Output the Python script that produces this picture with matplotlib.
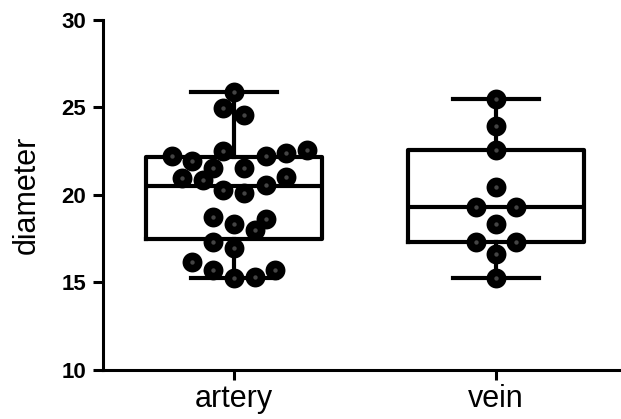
import matplotlib
matplotlib.use("Agg")
import matplotlib.pyplot as plt
import numpy as np

categories = ["artery", "vein"]

# individual values
artery_values = [25.85, 24.95, 24.57, 22.5, 22.2, 21.93, 22.19, 22.4, 22.57,
                 21.52, 21.52, 20.98, 20.84, 20.29, 20.13, 20.57, 21.01,
                 18.76, 18.33, 18.64, 18.0, 17.33, 16.95, 16.16, 15.69,
                 15.24, 15.3, 15.69]
artery_jitter = [0.0, -0.042, 0.038, -0.042, -0.237, -0.16, 0.122, 0.2, 0.28,
                 -0.08, 0.038, -0.198, -0.12, -0.042, 0.038, 0.122, 0.2,
                 -0.08, 0.0, 0.122, 0.08, -0.08, 0.0, -0.16, -0.08,
                 0.0, 0.08, 0.157]
vein_values = [25.49, 23.94, 22.57, 20.46, 19.31, 19.31, 18.34, 17.31, 17.31,
               16.63, 15.26]
vein_jitter = [0.0, 0.0, 0.0, 0.0, -0.076, 0.076, 0.0, -0.076, 0.076, 0.0, 0.0]

# box summary (min, q1, median, q3, max)
whislo = [15.25, 15.26]
q1 = [17.47, 17.31]
medians = [20.51, 19.31]
q3 = [22.15, 22.57]
whishi = [25.85, 25.49]

yticks = [10, 15, 20, 25, 30]

plt.rcParams['font.family'] = ['Liberation Sans', 'DejaVu Sans']

fig = plt.figure(figsize=(6.21, 4.19), dpi=100)
ax = fig.add_axes([0.166, 0.117, 0.834, 0.836])

stats = []
for i in range(len(categories)):
    stats.append(dict(label=categories[i], whislo=whislo[i], q1=q1[i],
                      med=medians[i], q3=q3[i], whishi=whishi[i], fliers=[]))

lw = 3.0
ax.bxp(stats, positions=[0, 1], widths=0.67, showfliers=False,
       boxprops=dict(color='black', linewidth=lw),
       medianprops=dict(color='black', linewidth=lw),
       whiskerprops=dict(color='black', linewidth=lw),
       capprops=dict(color='black', linewidth=lw),
       capwidths=0.33)

groups = [(artery_values, artery_jitter), (vein_values, vein_jitter)]
for i, (vals, jit) in enumerate(groups):
    xs = np.array(jit) + i
    ax.scatter(xs, vals, s=205, color='black', zorder=3, linewidths=0)
    ax.scatter(xs, vals, s=10, color='#444444', zorder=4, linewidths=0)

ax.set_xlim(-0.5, 1.477)
ax.set_ylim(10, 30)
ax.set_yticks(yticks)
ax.set_yticklabels([str(t) for t in yticks], fontsize=16, fontweight='bold')
ax.set_xticks([0, 1])
ax.set_xticklabels(categories, fontsize=22)
ax.set_ylabel("diameter", fontsize=22, labelpad=14)

for s in ['top', 'right']:
    ax.spines[s].set_visible(False)
for s in ['left', 'bottom']:
    ax.spines[s].set_linewidth(2.2)
ax.tick_params(axis='both', width=2.2, length=7, color='black')
ax.tick_params(axis='y', pad=5)
ax.tick_params(axis='x', pad=3)

fig.savefig("out.png", dpi=100)
